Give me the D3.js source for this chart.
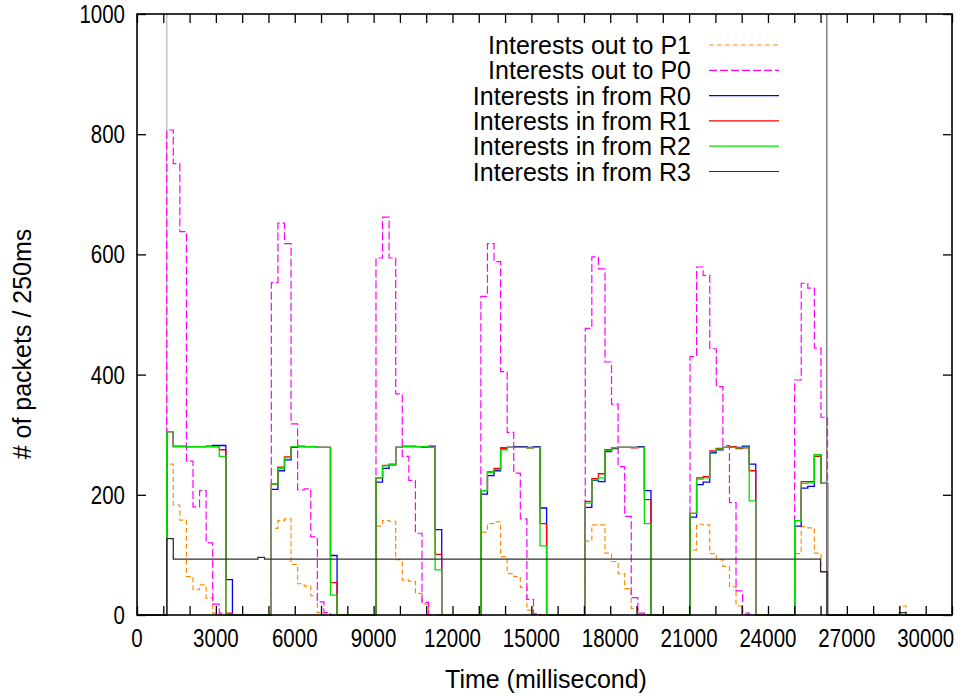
<!DOCTYPE html>
<html>
<head>
<meta charset="utf-8">
<script src="https://cdn.jsdelivr.net/npm/d3@7"></script>
<style>
  html, body { margin: 0; padding: 0; background: #fff; }
  svg { display: block; }
  text { font-family: "Liberation Sans", Arial, Helvetica, sans-serif; fill: #000; }
</style>
</head>
<body>
<svg id="chart" width="963" height="696"></svg>
<script>
// ---------------- DATA ----------------
const binMs = 250;
const cycleStarts = [1130, 5110, 9090, 13080, 17050, 21035, 25015];

// Interests out to P1 (orange, dashed) per cycle, 250ms bins
const p1Bins = [
  [251, 183, 158, 64, 42, 50, 28, 3],
  [144, 157, 160, 84, 52, 48, 32, 4],
  [148, 157, 156, 92, 58, 56, 36, 18],
  [138, 152, 155, 97, 69, 64, 46, 8],
  [123, 150, 150, 103, 89, 69, 44, 11],
  [108, 151, 150, 102, 92, 81, 47, 15],
  [102, 147, 145, 103, 72]
];
// extra small burst of P1 late in the run
const p1ExtraTimes = [29000];
const p1ExtraValues = [15];

// Interests out to P0 (magenta, dashed)
const p0Bins = [
  [807, 751, 638, 256, 180, 207, 120, 18, 3],
  [553, 652, 618, 318, 208, 210, 130, 22, 4],
  [594, 662, 594, 368, 264, 224, 136, 21],
  [530, 618, 588, 405, 304, 236, 160, 26, 2],
  [477, 596, 576, 421, 351, 247, 164, 29, 3],
  [430, 579, 565, 443, 380, 282, 187, 40, 3],
  [391, 552, 544, 444, 329]
];

// Interests in from R0 (blue)
const r0Bins = [
  [305, 280, 280, 280, 280, 280, 281, 282, 282, 59],
  [209, 240, 258, 279, 280, 280, 280, 279, 279, 99],
  [221, 244, 250, 279, 280, 280, 280, 280, 281, 142],
  [201, 232, 240, 278, 279, 280, 280, 279, 280, 178],
  [179, 224, 222, 272, 277, 279, 279, 279, 280, 207],
  [163, 217, 221, 270, 275, 279, 279, 279, 281, 251],
  [148, 211, 214, 267, 219]
];
// Interests in from R1 (red)
const r1Bins = [
  [305, 281, 281, 280, 280, 280, 280, 280, 275, 3],
  [218, 246, 263, 280, 281, 280, 280, 279, 279, 54],
  [228, 249, 251, 279, 281, 281, 280, 279, 279, 101],
  [207, 238, 244, 277, 279, 279, 279, 278, 279, 152],
  [189, 227, 235, 275, 278, 279, 279, 278, 279, 192],
  [169, 228, 230, 273, 277, 279, 280, 277, 278, 240],
  [157, 222, 222, 264, 219]
];
// Interests in from R2 (green)
const r2Bins = [
  [305, 280, 280, 280, 280, 280, 280, 280, 264, 0],
  [218, 244, 262, 280, 280, 280, 280, 279, 279, 33],
  [228, 248, 250, 279, 280, 280, 280, 280, 279, 75],
  [207, 237, 242, 275, 279, 279, 279, 278, 279, 115],
  [186, 225, 228, 274, 278, 279, 279, 279, 279, 152],
  [169, 226, 228, 272, 276, 279, 279, 278, 279, 190],
  [157, 219, 220, 267, 219]
];
// Interests in from R3 (dark grey): change points (ms) and values
const r3Times  = [0, 1130, 1380, 4600, 4850, 26000, 26250, 29000, 29250];
const r3Values = [0, 127,  93,   96,   93,   72,    0,     4,     0];

// marker lines (ms)
const markerTimes = [1130, 26235];
const markerColors = ["#c4c4c4", "#808080"];

// axes
const xDomain = [0, 31000];
const yDomain = [0, 1000];
const xTickLabels = [0, 3000, 6000, 9000, 12000, 15000, 18000, 21000, 24000, 27000, 30000];
const xMinorTicks = d3.range(0, 31001, 1000);
const yTickLabels = [0, 200, 400, 600, 800, 1000];

const seriesNames = ["Interests out to P1", "Interests out to P0", "Interests in from R0",
                     "Interests in from R1", "Interests in from R2", "Interests in from R3"];
const seriesColors = ["#ff8c00", "#ff00ff", "#0000ff", "#ff0000", "#00e000", "#303030"];
const seriesDash = ["5,3", "8,3", null, null, null, null];

// ---------------- BUILD ----------------
function buildFromCycles(bins, extraT, extraV) {
  const pts = [[xDomain[0], 0]];
  const segs = [];
  bins.forEach((arr, i) => segs.push({t0: cycleStarts[i], vals: arr}));
  if (extraT) extraT.forEach((t, i) => segs.push({t0: t, vals: [extraV[i]]}));
  segs.sort((a, b) => a.t0 - b.t0);
  segs.forEach(s => {
    s.vals.forEach((v, j) => pts.push([s.t0 + j * binMs, v]));
    pts.push([s.t0 + s.vals.length * binMs, 0]);
  });
  pts.push([xDomain[1], 0]);
  return pts;
}

const seriesData = [
  buildFromCycles(p1Bins, p1ExtraTimes, p1ExtraValues),
  buildFromCycles(p0Bins),
  buildFromCycles(r0Bins),
  buildFromCycles(r1Bins),
  buildFromCycles(r2Bins),
  r3Times.map((t, i) => [t, r3Values[i]]).concat([[xDomain[1], 0]])
];

// ---------------- DRAW ----------------
const svg = d3.select("#chart");
const L = 137, R = 952, T = 14, B = 615;
const x = d3.scaleLinear().domain(xDomain).range([L, R]);
const y = d3.scaleLinear().domain(yDomain).range([B, T]);

// marker lines
svg.append("g").selectAll("line").data(markerTimes).join("line")
  .attr("x1", d => x(d)).attr("x2", d => x(d))
  .attr("y1", y(yDomain[1])).attr("y2", y(0))
  .attr("stroke", (d, i) => markerColors[i]).attr("stroke-width", 1.5);

const line = d3.line().x(d => x(d[0])).y(d => y(d[1])).curve(d3.curveStepAfter);
const gData = svg.append("g");
seriesData.forEach((pts, i) => {
  gData.append("path")
    .attr("d", line(pts))
    .attr("fill", "none")
    .attr("stroke", seriesColors[i])
    .attr("stroke-width", i < 2 ? 1.2 : 1.3)
    .attr("stroke-dasharray", seriesDash[i]);
});

// frame
const gAxis = svg.append("g");
gAxis.append("rect").attr("x", L).attr("y", T).attr("width", R - L).attr("height", B - T)
  .attr("fill", "none").attr("stroke", "#000").attr("stroke-width", 1.6);

// axes via d3 axis generators (ticks inward, mirrored)
const tickLen = 9;
const xBottom = d3.axisBottom(x).tickValues(xMinorTicks).tickSize(-tickLen).tickFormat("");
const xTop = d3.axisTop(x).tickValues(xMinorTicks).tickSize(-tickLen).tickFormat("");
const yLeft = d3.axisLeft(y).tickValues(yTickLabels).tickSize(-tickLen).tickFormat("");
const yRight = d3.axisRight(y).tickValues(yTickLabels).tickSize(-tickLen).tickFormat("");
[[xBottom, `translate(0,${B})`], [xTop, `translate(0,${T})`],
 [yLeft, `translate(${L},0)`], [yRight, `translate(${R},0)`]].forEach(([ax, tr]) => {
  const g = gAxis.append("g").attr("transform", tr).call(ax);
  g.select(".domain").remove();
  g.selectAll(".tick line").attr("stroke", "#000").attr("stroke-width", 1.3);
});

// tick labels (condensed digits, like the reference)
const squeeze = 0.82;
gAxis.append("g").selectAll("text").data(xTickLabels).join("text")
  .attr("transform", d => `translate(${x(d)},647) scale(${squeeze},1)`)
  .attr("text-anchor", "middle").attr("font-size", 25)
  .text(d => d);
gAxis.append("g").selectAll("text").data(yTickLabels).join("text")
  .attr("transform", d => `translate(125,${y(d) + 9}) scale(${squeeze},1)`)
  .attr("text-anchor", "end").attr("font-size", 25)
  .text(d => d);

// axis titles
svg.append("text").attr("x", 546).attr("y", 688).attr("text-anchor", "middle")
  .attr("font-size", 25).text("Time (millisecond)");
svg.append("text").attr("transform", "translate(31,344) rotate(-90)").attr("text-anchor", "middle")
  .attr("font-size", 25).text("# of packets / 250ms");

// legend
const gLeg = svg.append("g");
seriesNames.forEach((name, i) => {
  const cy = 45 + i * 25.3;
  gLeg.append("text").attr("x", 691).attr("y", cy + 9).attr("text-anchor", "end")
    .attr("font-size", 25).text(name);
  gLeg.append("line").attr("x1", 709).attr("x2", 779).attr("y1", cy).attr("y2", cy)
    .attr("stroke", seriesColors[i]).attr("stroke-width", 1.2)
    .attr("stroke-dasharray", seriesDash[i]);
});
</script>
</body>
</html>
